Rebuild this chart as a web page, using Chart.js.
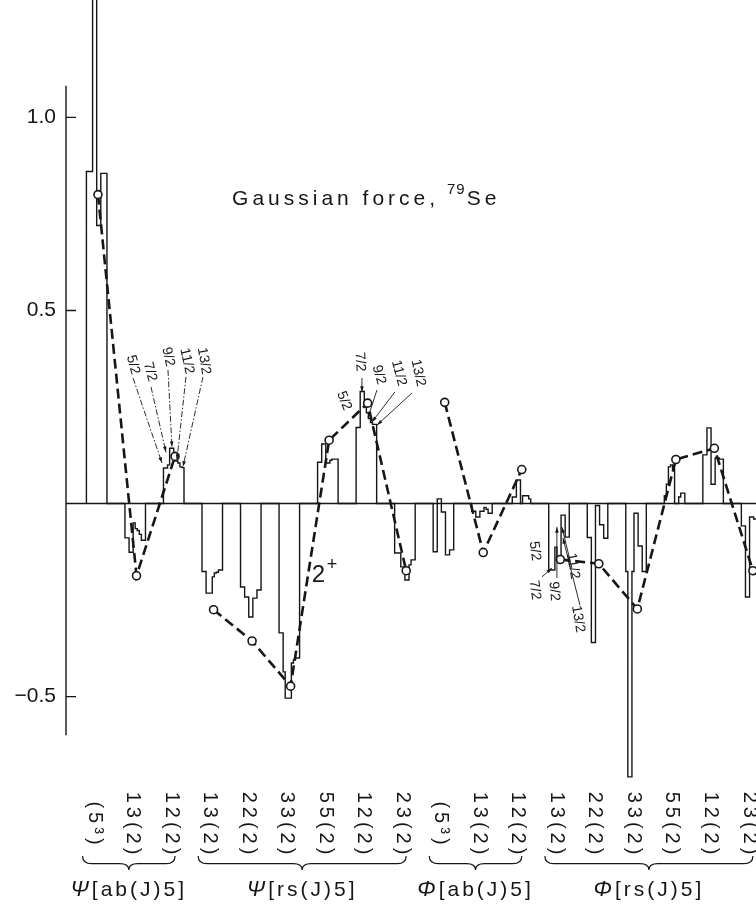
<!DOCTYPE html>
<html>
<head>
<meta charset="utf-8">
<script src="https://cdn.jsdelivr.net/npm/chart.js@4.4.1/dist/chart.umd.min.js"></script>
<style>
  html, body { margin: 0; padding: 0; background: #fff; }
  #wrap { width: 756px; height: 906px; }
</style>
</head>
<body>
<div id="wrap"><canvas id="chart" width="756" height="906"></canvas></div>
<script>
// configurations along the x axis, left to right
const configLabels = ['(5³)', '13(2)', '12(2)', '13(2)', '22(2)', '33(2)', '55(2)', '12(2)', '23(2)',
                      '(5³)', '13(2)', '12(2)', '13(2)', '22(2)', '33(2)', '55(2)', '12(2)', '23(2)'];

// averaged value per configuration (open circles on the dashed line)
const meanValues = [0.80, -0.187, 0.122, -0.275, -0.356, -0.473, 0.164, 0.26, -0.174,
                    0.262, -0.127, 0.088, -0.145, -0.156, -0.273, 0.114, 0.143, -0.174];

// step histogram under each configuration, 10 bins each
const binValues = [
  [0.86, 0.86, 0.86, 1.45, 1.45, 0.72, 0.72, 0.855, 0.855, 0.855],
  [-0.089, -0.089, -0.126, -0.126, -0.05, -0.065, -0.07, -0.08, -0.095, -0.095],
  [0.092, 0.092, 0.10, 0.143, 0.143, 0.12, 0.11, 0.105, 0.095, 0.093],
  [-0.176, -0.176, -0.232, -0.232, -0.232, -0.19, -0.18, -0.178, -0.172, -0.172],
  [-0.216, -0.216, -0.242, -0.242, -0.294, -0.294, -0.245, -0.245, -0.224, -0.224],
  [-0.335, -0.335, -0.436, -0.504, -0.504, -0.504, -0.413, -0.405, -0.40, -0.40],
  [0.107, 0.107, 0.154, 0.154, 0.105, 0.105, 0.112, 0.115, 0.115, 0.115],
  [0.197, 0.197, 0.29, 0.29, 0.25, 0.235, 0.22, 0.21, 0.205, 0.205],
  [-0.128, -0.128, -0.128, -0.164, -0.164, -0.198, -0.198, -0.159, -0.146, -0.146],
  [-0.125, -0.125, 0.012, 0.012, -0.022, -0.022, -0.133, -0.133, -0.12, -0.12],
  [-0.02, -0.02, -0.035, -0.035, -0.02, -0.02, -0.01, -0.015, -0.025, -0.025],
  [0, 0.017, 0.017, 0.061, 0.061, 0, 0.02, 0.02, 0.02, 0.012],
  [-0.172, -0.172, -0.172, -0.113, -0.14, -0.14, -0.03, -0.03, -0.087, -0.087],
  [-0.088, -0.088, -0.36, -0.36, -0.005, -0.005, -0.055, -0.055, -0.09, -0.09],
  [-0.176, -0.708, -0.708, -0.176, -0.025, -0.025, -0.11, -0.11, -0.176, -0.176],
  [0.02, 0.05, 0.095, 0.1, 0.09, 0, 0, 0.017, 0.027, 0.027],
  [0.126, 0.126, 0.196, 0.196, 0.05, 0.05, 0.118, 0.118, 0.115, 0.115],
  [-0.058, -0.058, -0.242, -0.242, -0.035, -0.035, -0.04, -0.04, -0.04, -0.04]
];

// groups of configurations (braces under the axis)
const sections = [
  { label: 'Ψ[ab(J)5]', from: 0, to: 2 },
  { label: 'Ψ[rs(J)5]', from: 3, to: 8 },
  { label: 'Φ[ab(J)5]', from: 9, to: 11 },
  { label: 'Φ[rs(J)5]', from: 12, to: 17 }
];

const yTicks = [-0.5, 0.5, 1.0];
const axisSpan = [-0.6, 1.082];

// J tags: text, x (config index), y (value), rotation
const jTags = [
  ['5/2', 0.91, 0.359, 1.3], ['7/2', 1.35, 0.341, 1.3], ['9/2', 1.82, 0.380, 1.35],
  ['11/2', 2.31, 0.369, 1.35], ['13/2', 2.75, 0.369, 1.4],
  ['7/2', 6.80, 0.367, 1.5], ['5/2', 6.39, 0.266, 1.2], ['9/2', 7.29, 0.333, 1.3],
  ['11/2', 7.81, 0.338, 1.3], ['13/2', 8.31, 0.338, 1.35],
  ['5/2', 11.34, -0.123, 1.45], ['7/2', 11.34, -0.224, 1.45], ['9/2', 11.84, -0.227, 1.5],
  ['11/2', 12.33, -0.162, 1.4], ['13/2', 12.46, -0.299, 1.4]
];
// leader arrows: x0, y0 -> x1, y1 (head at the second point), dashed flag
const jArrows = [
  [0.91, 0.325, 1.661, 0.105, 1], [1.376, 0.302, 1.765, 0.133, 1], [1.817, 0.346, 1.921, 0.146, 1],
  [2.284, 0.328, 2.05, 0.113, 1], [2.725, 0.328, 2.206, 0.095, 1],
  [6.852, 0.325, 6.852, 0.289, 0], [7.241, 0.294, 7.007, 0.222, 0], [7.708, 0.289, 7.111, 0.211, 0],
  [8.149, 0.286, 7.241, 0.203, 0],
  [11.523, -0.19, 11.783, -0.167, 0], [11.912, -0.193, 11.912, -0.061, 0],
  [12.302, -0.167, 12.042, -0.061, 0], [12.51, -0.263, 12.068, -0.089, 0]
];

const ink = '#161616';
const family = '"Liberation Sans", Arial, sans-serif';
const binStart = -0.30, binWidth = 0.0533;

// histogram outline as one stepped line
const histPoints = [];
binValues.forEach((bins, i) => {
  const x0 = i + binStart;
  histPoints.push({ x: x0, y: 0 });
  bins.forEach((v, k) => histPoints.push({ x: x0 + k * binWidth, y: v }));
  histPoints.push({ x: x0 + bins.length * binWidth, y: 0 });
});

const meanSets = sections.map(s => ({
  data: meanValues.slice(s.from, s.to + 1).map((v, k) => ({ x: s.from + k, y: v })),
  borderColor: ink,
  borderWidth: 2.6,
  borderDash: [10, 5],
  pointRadius: 4,
  pointBorderWidth: 1.6,
  pointBackgroundColor: '#fff',
  pointBorderColor: ink,
  tension: 0
}));

const histSet = {
  data: histPoints,
  stepped: 'before',
  borderColor: ink,
  borderWidth: 1.4,
  pointRadius: 0,
  fill: false
};

function drawBrace(ctx, x1, x2, top, depth) {
  const xm = (x1 + x2) / 2, mid = top + depth * 0.55;
  ctx.beginPath();
  ctx.moveTo(x1, top);
  ctx.quadraticCurveTo(x1, mid, x1 + 9, mid);
  ctx.lineTo(xm - 9, mid);
  ctx.quadraticCurveTo(xm, mid, xm, top + depth);
  ctx.quadraticCurveTo(xm, mid, xm + 9, mid);
  ctx.lineTo(x2 - 9, mid);
  ctx.quadraticCurveTo(x2, mid, x2, top);
  ctx.stroke();
}

const figurePlugin = {
  id: 'figure',
  beforeDatasetsDraw(chart) {
    const { ctx, chartArea, scales: { x, y } } = chart;
    ctx.save();
    ctx.strokeStyle = ink;
    ctx.lineWidth = 1.4;
    const y0 = y.getPixelForValue(0);
    ctx.beginPath();
    ctx.moveTo(chartArea.left, y0);
    ctx.lineTo(chartArea.right, y0);
    ctx.moveTo(chartArea.left, y.getPixelForValue(axisSpan[1]));
    ctx.lineTo(chartArea.left, y.getPixelForValue(axisSpan[0]));
    yTicks.forEach(v => {
      const py = y.getPixelForValue(v);
      ctx.moveTo(chartArea.left, py);
      ctx.lineTo(chartArea.left + 10, py);
    });
    ctx.stroke();
    ctx.restore();
  },
  afterDraw(chart) {
    const { ctx, chartArea, scales: { x, y } } = chart;
    const base = chartArea.bottom;
    ctx.save();
    ctx.fillStyle = ink;
    ctx.strokeStyle = ink;

    // title
    ctx.font = `21px ${family}`;
    ctx.letterSpacing = '4px';
    ctx.textAlign = 'left';
    ctx.textBaseline = 'alphabetic';
    const tx = x.getPixelForValue(3.48), ty = y.getPixelForValue(0.774);
    const main = 'Gaussian force, ';
    ctx.fillText(main, tx, ty);
    let cx = tx + ctx.measureText(main).width - 2;
    ctx.font = `15px ${family}`;
    ctx.letterSpacing = '1px';
    ctx.fillText('79', cx, ty - 11);
    cx += ctx.measureText('79').width + 1;
    ctx.font = `21px ${family}`;
    ctx.letterSpacing = '4px';
    ctx.fillText('Se', cx, ty);

    // 2+ tag
    ctx.letterSpacing = '0px';
    ctx.font = `24px ${family}`;
    const px2 = x.getPixelForValue(5.55), py2 = y.getPixelForValue(-0.203);
    ctx.fillText('2', px2, py2);
    ctx.font = `18px ${family}`;
    ctx.fillText('+', px2 + 15, py2 - 12);

    // J tags and arrows
    ctx.font = `14px ${family}`;
    ctx.textAlign = 'center';
    ctx.textBaseline = 'middle';
    jTags.forEach(([t, jx, jy, rot]) => {
      ctx.save();
      ctx.translate(x.getPixelForValue(jx), y.getPixelForValue(jy));
      ctx.rotate(rot);
      ctx.fillText(t, 0, 0);
      ctx.restore();
    });
    ctx.lineWidth = 0.9;
    jArrows.forEach(([ax, ay, bx, by, dashed]) => {
      const p0x = x.getPixelForValue(ax), p0y = y.getPixelForValue(ay);
      const p1x = x.getPixelForValue(bx), p1y = y.getPixelForValue(by);
      ctx.setLineDash(dashed ? [6, 2, 1.5, 2] : []);
      ctx.beginPath();
      ctx.moveTo(p0x, p0y);
      ctx.lineTo(p1x, p1y);
      ctx.stroke();
      ctx.setLineDash([]);
      const a = Math.atan2(p1y - p0y, p1x - p0x);
      ctx.beginPath();
      ctx.moveTo(p1x, p1y);
      ctx.lineTo(p1x - 6 * Math.cos(a - 0.3), p1y - 6 * Math.sin(a - 0.3));
      ctx.lineTo(p1x - 6 * Math.cos(a + 0.3), p1y - 6 * Math.sin(a + 0.3));
      ctx.closePath();
      ctx.fill();
    });

    // configuration labels, rotated
    ctx.font = `20px ${family}`;
    ctx.letterSpacing = '4px';
    configLabels.forEach((t, i) => {
      ctx.save();
      ctx.translate(x.getPixelForValue(i - 0.1), base + 43);
      ctx.rotate(Math.PI / 2);
      ctx.fillText(t, 2, 0);
      ctx.restore();
    });

    // braces and section names
    ctx.lineWidth = 1.2;
    sections.forEach(s => {
      const x1 = x.getPixelForValue(s.from - 0.4), x2 = x.getPixelForValue(s.to);
      drawBrace(ctx, x1, x2, base + 76, 14);
      const greek = s.label[0], rest = s.label.slice(1);
      ctx.letterSpacing = '0px';
      ctx.font = `italic 22px ${family}`;
      const gw = ctx.measureText(greek).width + 3;
      ctx.font = `21px ${family}`;
      ctx.letterSpacing = '3px';
      const rw = ctx.measureText(rest).width;
      const left = (x1 + x2) / 2 - (gw + rw) / 2;
      ctx.textAlign = 'left';
      ctx.textBaseline = 'alphabetic';
      ctx.letterSpacing = '0px';
      ctx.font = `italic 22px ${family}`;
      ctx.fillText(greek, left, base + 116);
      ctx.font = `21px ${family}`;
      ctx.letterSpacing = '3px';
      ctx.fillText(rest, left + gw, base + 116);
      ctx.textAlign = 'center';
      ctx.textBaseline = 'middle';
    });
    ctx.restore();
  }
};

new Chart(document.getElementById('chart'), {
  type: 'line',
  data: { datasets: [...meanSets, histSet] },
  options: {
    responsive: false,
    animation: false,
    layout: { autoPadding: false, padding: { top: 0, right: 0, bottom: 126, left: 0 } },
    plugins: { legend: { display: false }, tooltip: { enabled: false } },
    scales: {
      x: { type: 'linear', min: -0.83, max: 17.08, display: false },
      y: {
        min: -0.716,
        max: 1.304,
        afterFit: s => { s.width = 66; s.paddingTop = 0; s.paddingBottom = 0; },
        afterBuildTicks: s => { s.ticks = yTicks.map(v => ({ value: v })); },
        grid: { display: false, drawTicks: false },
        border: { display: false },
        ticks: {
          padding: 10,
          color: ink,
          font: { family: 'Liberation Sans', size: 21 },
          callback: v => (v < 0 ? '−' : '') + Math.abs(v).toFixed(1)
        }
      }
    }
  },
  plugins: [figurePlugin]
});
</script>
</body>
</html>
